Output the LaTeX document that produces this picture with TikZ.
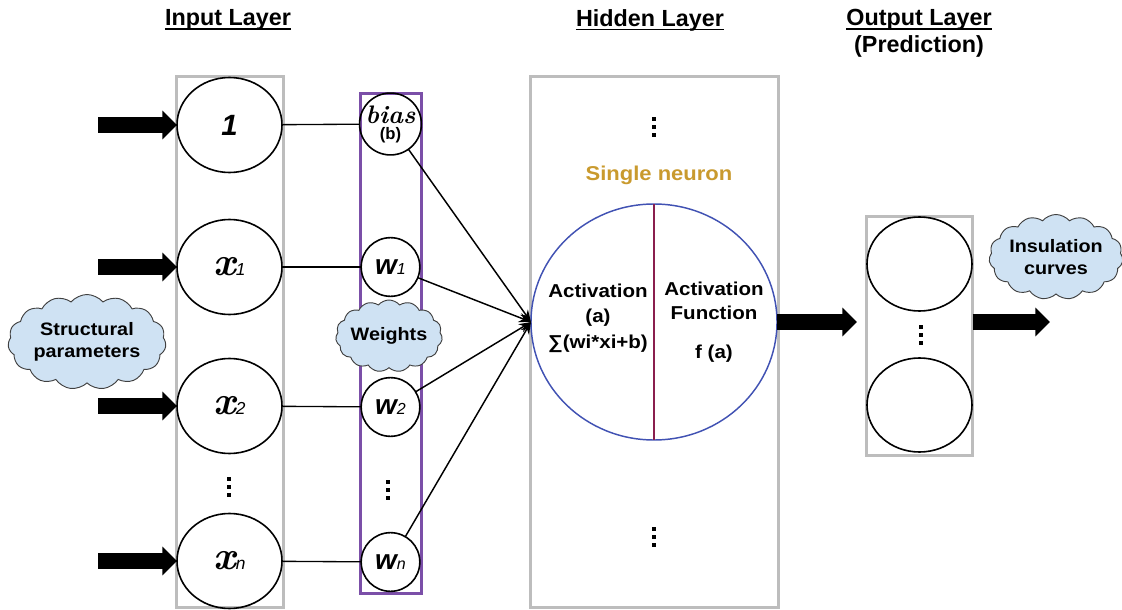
\documentclass[tikz,border=0pt]{standalone}
\usepackage{fontspec}
\setmainfont{Liberation Sans}
\newfontfamily\wf[FakeStretch=1.1]{Liberation Sans}
\newfontfamily\lmr{Latin Modern Roman}
\usetikzlibrary{shapes.geometric,shapes.symbols,arrows.meta,calc}
\definecolor{cloudblue}{HTML}{CFE2F3}
\definecolor{boxgray}{HTML}{BDBDBD}
\definecolor{wpurple}{HTML}{7B4FA8}
\definecolor{nblue}{HTML}{4152B3}
\definecolor{divred}{HTML}{8A1F4E}
\definecolor{goldtxt}{HTML}{C99A2E}
\newcommand\fs[2]{\fontsize{#1}{#2}\selectfont}
\begin{document}
\begin{tikzpicture}[x=0.75pt,y=-0.75pt,
  grayrect/.style={draw=boxgray, line width=2.25pt, inner sep=0pt, outer sep=0pt},
  purplerect/.style={draw=wpurple, line width=2.25pt, inner sep=0pt, outer sep=0pt},
  inode/.style={ellipse, draw, line width=1.2pt, minimum width=78.75pt, minimum height=71.25pt, inner sep=0pt, outer sep=0pt},
  wnode/.style={circle, draw, line width=1.2pt, minimum size=44pt, inner sep=0pt, outer sep=0pt},
  onode/.style={ellipse, draw, line width=1.2pt, minimum width=78.75pt, minimum height=70.5pt, inner sep=0pt},
  bigarrow/.style={line width=11.5pt, -{Triangle[length=11pt,width=21pt]}},
  conn/.style={line width=1pt},
  warr/.style={line width=1.1pt, -{Stealth[length=9pt,width=7pt]}},
  cloudnode/.style={cloud, cloud puffs=15, cloud puff arc=100, draw=black!75, fill=cloudblue, line width=0.7pt, inner sep=0pt},
  cloudtxt/.style={align=center, font=\wf\bfseries\fs{13.5}{16}},
  title/.style={font=\bfseries\fs{17.5}{21}, inner sep=0pt},
  uline/.style={line width=1.3pt},
  vd/.pic={\foreach \d in {-8,0,8}\fill (-2.2,\d-2.2) rectangle (2.2,\d+2.2);}
]
\useasboundingbox (0,0) rectangle (1122,610);

% titles
\node[title] (tin) at (228,20) {Input Layer};
\node[title] (thid) at (650,20) {Hidden Layer};
\node[title] (tout) at (919,20) {Output Layer};
\node[title] (tpred) at (919,46) {(Prediction)};
\draw[uline] ($(tin.base west)+(0,3.5)$) -- ($(tin.base east)+(0,3.5)$);
\draw[uline] ($(thid.base west)+(0,3.5)$) -- ($(thid.base east)+(0,3.5)$);
\draw[uline] ($(tout.base west)+(0,3.5)$) -- ($(tout.base east)+(0,3.5)$);

% boxes
\node[grayrect, minimum width=80.25pt, minimum height=397.5pt] (inbox) at (229.5,342) {};
\node[purplerect, minimum width=45.75pt, minimum height=374.25pt] (wbox) at (390.5,343.5) {};
\node[grayrect, minimum width=186pt, minimum height=397.5pt] (hidbox) at (654,342) {};
\node[grayrect, minimum width=79.5pt, minimum height=179.25pt] (outbox) at (919.5,335.5) {};

% input nodes
\node[inode] (one) at (229.5,125) {\bfseries\itshape\fs{22}{22}1};
\node[inode] (x1) at (229.5,267) {{\lmr\bfseries\itshape\fs{30}{30}x}{\fs{13}{13}\itshape 1}};
\node[inode] (x2) at (229.5,406) {{\lmr\bfseries\itshape\fs{30}{30}x}{\fs{13}{13}\itshape 2}};
\node[inode] (xn) at (229.5,561) {{\lmr\bfseries\itshape\fs{30}{30}x}{\fs{13}{13}\itshape n}};
\pic at (229,487) {vd};

% weight nodes
\node[wnode, align=center] (bias) at (390.5,124) {{\lmr\bfseries\itshape\fs{19}{15}bias}\\{\fs{12.5}{15}\bfseries (b)}};
\node[wnode] (w1) at (390.5,267) {{\fs{21}{21}\bfseries\itshape w}{\fs{12}{12}\itshape 1}};
\node[wnode] (w2) at (390.5,407) {{\fs{21}{21}\bfseries\itshape w}{\fs{12}{12}\itshape 2}};
\node[wnode] (wn) at (390.5,562) {{\fs{21}{21}\bfseries\itshape w}{\fs{12}{12}\itshape n}};
\pic at (388,490) {vd};

% input arrows
\coordinate (s1) at (98,125);
\coordinate (s2) at (98,267);
\coordinate (s3) at (98,406);
\coordinate (s4) at (98,561);
\draw[bigarrow] (s1) -- (one.west);
\draw[bigarrow] (s2) -- (x1.west);
\draw[bigarrow] (s3) -- (x2.west);
\draw[bigarrow] (s4) -- (xn.west);

% input to weights
\draw[conn] (one) -- (bias);
\draw[conn] (x1) -- (w1);
\draw[conn] (x2) -- (w2);
\draw[conn] (xn) -- (wn);

% neuron
\node[ellipse, draw=nblue, line width=1.1pt, minimum width=184.5pt, minimum height=177pt, inner sep=0pt, outer sep=0pt] (neuron) at (654,322) {};
\draw[divred, line width=1pt] (neuron.north) -- (neuron.south);
\node[align=center, font=\wf\bfseries\fs{14}{19}] (actL) at (598,318) {Activation\\(a)\\∑(wi*xi+b)};
\node[align=center, font=\wf\bfseries\fs{14}{18}] (actR) at (714,322) {Activation\\Function\\[11pt]f (a)};
\node[font=\wf\bfseries\fs{15}{18}, text=goldtxt] (single) at (659,175) {Single neuron};
\pic at (654,127) {vd};
\pic at (654,537) {vd};

% weights to neuron
\draw[warr] (bias) -- (neuron.west);
\draw[warr] (w1) -- (neuron.west);
\draw[warr] (w2) -- (neuron.west);
\draw[warr] (wn) -- (neuron.west);

% output
\node[onode] (o1) at (919.5,264) {};
\node[onode] (o2) at (919.5,405) {};
\pic at (921,335) {vd};
\coordinate (na) at (857,322);
\coordinate (oa) at (1050,322);
\draw[bigarrow] (neuron.east) -- (na);
\draw[bigarrow] (outbox.east |- oa) -- (oa);

% clouds
\node[cloudnode, minimum width=118.5pt, minimum height=71.25pt, label={[cloudtxt]center:Structural\\parameters}] (cstruct) at (87,342) {};
\node[cloudnode, minimum width=80pt, minimum height=54pt, label={[cloudtxt]center:Weights}] (cweights) at (389,336) {};
\node[cloudnode, minimum width=100.5pt, minimum height=63.75pt, label={[cloudtxt]center:Insulation\\curves}] (cins) at (1056,257) {};
\end{tikzpicture}
\end{document}
